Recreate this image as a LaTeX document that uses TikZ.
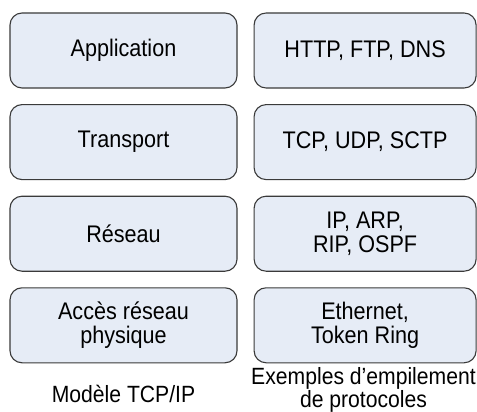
\documentclass[tikz,border=0pt]{standalone}
\usepackage{fontspec}
\usepackage{tikz}
\usetikzlibrary{positioning}

\newfontfamily\layerfont[FakeStretch=0.9]{Liberation Sans}
\definecolor{layerfill}{HTML}{E6ECF6}
\definecolor{layerline}{HTML}{3A3A3A}

\begin{document}
\begin{tikzpicture}[
        layer/.style = {
            draw = layerline,
            fill = layerfill,
            line width = 1.1pt,
            rounded corners = 12pt,
            minimum width = #1,
            minimum height = 75pt,
            align = center,
            inner sep = 0pt,
            font = \layerfont\fontsize{24}{24.5}\selectfont
        },
        layer/.default = 227pt,
        caption/.style = {
            align = center,
            inner sep = 0pt,
            font = \layerfont\fontsize{23.5}{23}\selectfont
        },
        node distance = {15.5pt}
        ]
        \useasboundingbox (0,0) rectangle (477pt,-412pt);
%
        \node[layer] (app) at (123.5pt,-50.5pt) {Application};
        \node[layer, below=of app] (trans) {Transport};
        \node[layer, below=of trans] (net) {Réseau};
        \node[layer, below=of net] (phys) {Accès réseau\\physique};
%
        \node[layer=222pt, right=16pt of app] (http) {HTTP, FTP, DNS};
        \node[layer=222pt, right=16pt of trans] (tcp) {TCP, UDP, SCTP};
        \node[layer=222pt, right=16pt of net] (ip) {IP, ARP,\\RIP, OSPF};
        \node[layer=222pt, right=16pt of phys] (eth) {Ethernet,\\Token Ring};
%
        \node[caption, anchor=base] (model) at (123.5pt,-402pt) {Modèle TCP/IP};
        \node[caption] (stack) at (363.5pt,-389.5pt) {Exemples d’empilement\\de protocoles};
\end{tikzpicture}
\end{document}
